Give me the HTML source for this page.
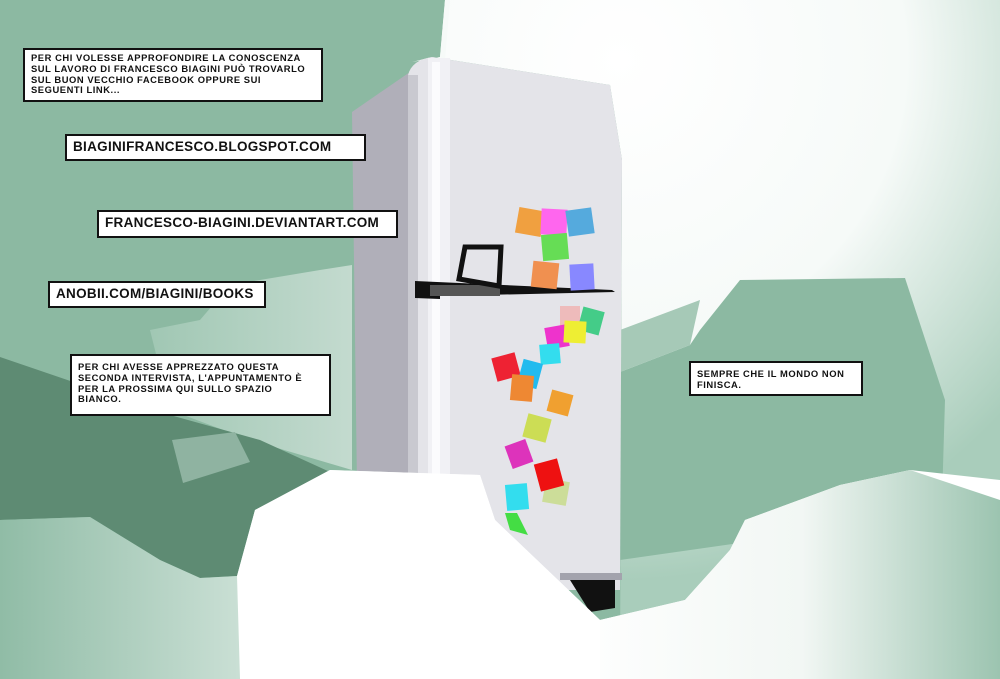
<!DOCTYPE html>
<html><head><meta charset="utf-8"><style>
html,body{margin:0;padding:0;width:1000px;height:679px;overflow:hidden;background:#8cb9a2}
svg{position:absolute;left:0;top:0}
.b{position:absolute;background:#fff;border:2px solid #111;box-sizing:border-box;font-family:"Liberation Sans",sans-serif;font-weight:bold;color:#111;text-transform:uppercase;line-height:1;white-space:nowrap}
.s{font-size:9.4px;padding:3px 6px;line-height:10.8px;letter-spacing:0.55px}
.l{font-size:13.5px;padding:4px 6px;letter-spacing:0.3px}
</style></head><body>
<svg width="1000" height="679" viewBox="0 0 1000 679">
<defs>
<radialGradient id="wt" cx="620" cy="60" r="520" gradientUnits="userSpaceOnUse">
<stop offset="0" stop-color="#ffffff"/><stop offset="0.55" stop-color="#f6faf8"/><stop offset="1" stop-color="#a9cdbb"/></radialGradient>
<linearGradient id="bl" x1="0" y1="0" x2="1" y2="0">
<stop offset="0" stop-color="#90bca6"/><stop offset="0.3" stop-color="#d8e8e0"/><stop offset="0.45" stop-color="#ffffff"/><stop offset="1" stop-color="#ffffff"/></linearGradient>
<linearGradient id="br" x1="0" y1="0" x2="1" y2="0">
<stop offset="0" stop-color="#ffffff"/><stop offset="0.55" stop-color="#f2f7f4"/><stop offset="1" stop-color="#9cc4b0"/></linearGradient>
<linearGradient id="lg" x1="0" y1="0" x2="1" y2="0">
<stop offset="0" stop-color="#a9cdbb"/><stop offset="1" stop-color="#dbe9e2"/></linearGradient>
</defs>
<polygon points="445,0 1000,0 1000,679 620,679 622,160 610,85 432,57 412,62 440,57" fill="url(#wt)"/>
<polygon points="440,57 445,0 450,0 445,60" fill="#f6faf8"/>
<polygon points="620,372 690,345 700,330 740,280 905,278 945,400 942,500 900,520 620,560" fill="#8cb9a2"/>
<polygon points="620,330 700,300 690,345 620,372" fill="#a6c9b7"/>
<polygon points="150,330 200,320 230,285 320,270 352,265 352,470 250,440 170,410" fill="url(#lg)" opacity="0.7"/>
<polygon points="0,357 170,415 260,440 330,472 255,510 237,576 200,578 160,560 90,517 0,520" fill="#5e8b73"/>
<polygon points="172,440 235,432 250,462 183,483" fill="#8fb3a1"/>
<polygon points="0,520 90,517 160,560 200,578 175,583 0,560" fill="#7aa690"/>
<polygon points="352,112 410,72 410,560 358,560" fill="#b0afb9"/>
<path d="M408,75 Q412,60 432,57 L610,85 L622,160 L620,590 L412,590 Z" fill="#e4e4e9"/>
<rect x="408" y="75" width="10" height="500" fill="#c9c9d0"/>
<rect x="428" y="58" width="22" height="520" fill="#f1f1f5"/>
<rect x="432" y="62" width="8" height="510" fill="#fbfbfd"/>
<polygon points="415,281 612,290 615,292 440,296 440,299 415,298" fill="#111"/>
<polygon points="430,285 500,285 500,296 430,296" fill="#555"/>
<polygon points="465,247 501,247 499,286 459,279" fill="#e4e4e9" stroke="#111" stroke-width="5" stroke-linejoin="miter"/>
<polygon points="570,580 615,578 615,608 590,612" fill="#111"/>
<rect x="560" y="573" width="62" height="7" fill="#a3a3ad"/>
<g>
<rect x="-13" y="-13" width="26" height="26" fill="#f0a040" transform="translate(530,222) rotate(10)"/>
<rect x="-13" y="-13" width="26" height="26" fill="#ff66ee" transform="translate(554,222) rotate(3)"/>
<rect x="-13" y="-13" width="26" height="26" fill="#55aadd" transform="translate(580,222) rotate(-8)"/>
<rect x="-13" y="-13" width="26" height="26" fill="#66dd55" transform="translate(555,247) rotate(-5)"/>
<rect x="-13" y="-13" width="26" height="26" fill="#f09050" transform="translate(545,275) rotate(6)"/>
<rect x="-12" y="-13" width="24" height="26" fill="#8888ff" transform="translate(582,277) rotate(-3)"/>
<rect x="-10" y="-10" width="20" height="20" fill="#eebbbb" transform="translate(570,316)"/>
<rect x="-11" y="-12" width="22" height="24" fill="#44cc88" transform="translate(591,321) rotate(15)"/>
<rect x="-11" y="-11" width="22" height="22" fill="#ee33cc" transform="translate(557,337) rotate(-10)"/>
<rect x="-11" y="-11" width="22" height="22" fill="#eeee33" transform="translate(575,332) rotate(3)"/>
<rect x="-10" y="-10" width="20" height="20" fill="#33ddee" transform="translate(550,354) rotate(-5)"/>
<rect x="-12" y="-12" width="24" height="24" fill="#ee2233" transform="translate(506,367) rotate(-15)"/>
<rect x="-10" y="-13" width="20" height="26" fill="#22bbee" transform="translate(530,374) rotate(15)"/>
<rect x="-11" y="-13" width="22" height="26" fill="#ee8833" transform="translate(522,388) rotate(5)"/>
<rect x="-11" y="-11" width="22" height="22" fill="#f0a030" transform="translate(560,403) rotate(15)"/>
<rect x="-12" y="-12" width="24" height="24" fill="#ccdd55" transform="translate(537,428) rotate(15)"/>
<rect x="-11" y="-12" width="22" height="24" fill="#dd33bb" transform="translate(519,454) rotate(-20)"/>
<rect x="-12" y="-12" width="24" height="24" fill="#ccdd99" transform="translate(556,492) rotate(10)"/>
<rect x="-12" y="-14" width="24" height="28" fill="#ee1111" transform="translate(549,475) rotate(-15)"/>
<rect x="-11" y="-13" width="22" height="26" fill="#33ddee" transform="translate(517,497) rotate(-5)"/>
<polygon points="505,513 517,513 528,535 510,530" fill="#44dd44"/>
</g>
<polygon points="0,520 0,679 1000,679 1000,480 910,470 840,485 745,520 730,550 685,600 600,620 495,520 480,475 330,470 255,510 237,576 200,578 160,560 90,517" fill="url(#bl)"/>
<polygon points="600,620 685,600 730,550 745,520 840,485 910,470 1000,500 1000,679 560,679" fill="url(#br)"/>
<polygon points="330,470 480,475 495,520 600,620 600,679 240,679 237,576 255,510" fill="#ffffff"/>
</svg>
<div class="b s" style="left:23px;top:48px;width:300px;height:54px">Per chi volesse approfondire la conoscenza<br>sul lavoro di Francesco Biagini può trovarlo<br>sul buon vecchio facebook oppure sui<br>seguenti link...</div>
<div class="b l" style="left:65px;top:134px;width:301px;height:27px">biaginifrancesco.blogspot.com</div>
<div class="b l" style="left:97px;top:210px;width:301px;height:28px">francesco-biagini.deviantart.com</div>
<div class="b l" style="left:48px;top:281px;width:218px;height:27px">anobii.com/biagini/books</div>
<div class="b s" style="left:70px;top:354px;width:261px;height:62px;padding-top:6px">Per chi avesse apprezzato questa<br>seconda intervista, l'appuntamento è<br>per la prossima qui sullo spazio<br>bianco.</div>
<div class="b s" style="left:689px;top:361px;width:174px;height:35px;padding-top:6px">Sempre che il mondo non<br>finisca.</div>
</body></html>
